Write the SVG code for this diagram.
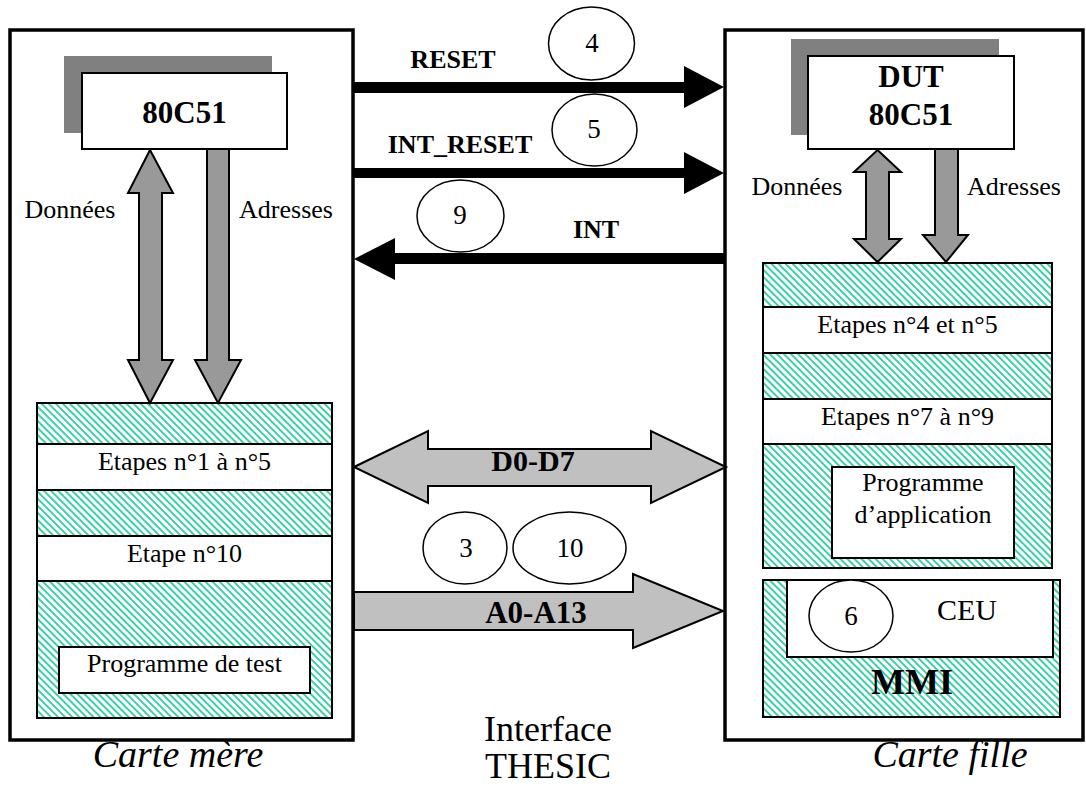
<svg xmlns="http://www.w3.org/2000/svg" width="1086" height="787" viewBox="0 0 1086 787">
<defs>
<pattern id="hatch" width="5" height="5" patternUnits="userSpaceOnUse" patternTransform="rotate(45)">
<rect width="5" height="5" fill="#ffffff"/>
<rect width="5" height="2" fill="#3cd0a6"/>
</pattern>
<style>
.outer{fill:#fff;stroke:#000;stroke-width:3.5}
.box{fill:#fff;stroke:#000;stroke-width:2}
.hatch{fill:url(#hatch);stroke:#000;stroke-width:2}
.shadow{fill:#808080}
.bus{fill:#999;stroke:#000;stroke-width:2}
.bus2{fill:#c0c0c0;stroke:#000;stroke-width:2}
.sig{fill:#000}
.ell{fill:#fff;stroke:#000;stroke-width:1.5}
text{font-family:"Liberation Serif","Times New Roman","DejaVu Serif",serif;fill:#000;text-anchor:middle}
.t{font-size:26px}
.b{font-size:26px;font-weight:bold}
.n{font-size:27px}
.big{font-size:36px}
.it{font-size:38px;font-style:italic}
</style>
</defs>
<rect width="1086" height="787" fill="#fff"/>

<g id="carte-mere">
<rect class="outer" x="10" y="30" width="343" height="710"/>
</g>
<g id="carte-fille">
<rect class="outer" x="725" y="30" width="358" height="710"/>
</g>

<g id="cpu-mere">
<rect class="shadow" x="64" y="56" width="208" height="77"/>
<rect class="box" x="82" y="73" width="205" height="76"/>
<text x="184.5" y="123" style="font-size:31px;font-weight:bold">80C51</text>
</g>

<g id="mem-mere">
<rect class="hatch" x="37" y="403" width="295" height="315"/>
<rect class="box" x="37" y="444" width="295" height="46"/>
<text class="t" x="184.5" y="470">Etapes n°1 à n°5</text>
<rect class="box" x="37" y="536" width="295" height="45"/>
<text class="t" x="184.5" y="562">Etape n°10</text>
<rect class="box" x="59" y="647" width="251" height="46"/>
<text class="t" x="184.5" y="672">Programme de test</text>
</g>

<g id="cpu-fille">
<rect class="shadow" x="791" y="39" width="208" height="96"/>
<rect class="box" x="808" y="56" width="206" height="93"/>
<text x="911" y="87" style="font-size:31px;font-weight:bold">DUT</text>
<text x="911" y="125" style="font-size:31px;font-weight:bold">80C51</text>
</g>

<g id="mem-fille">
<rect class="hatch" x="763" y="263" width="289" height="305"/>
<rect class="box" x="763" y="307" width="289" height="46"/>
<text class="t" x="907.5" y="333">Etapes n°4 et n°5</text>
<rect class="box" x="763" y="399" width="289" height="45"/>
<text class="t" x="907.5" y="425">Etapes n°7 à n°9</text>
<rect class="box" x="832" y="467" width="182" height="91"/>
<text class="t" x="923" y="491">Programme</text>
<text class="t" x="923" y="523">d’application</text>
</g>

<g id="mmi">
<rect class="hatch" x="763" y="580" width="297" height="137"/>
<rect class="box" x="787" y="580" width="266" height="77"/>
<text x="967" y="620" style="font-size:30px">CEU</text>
<text x="912" y="694" style="font-size:36px;font-weight:bold">MMI</text>
</g>

<g id="step6">
<ellipse class="ell" cx="851" cy="616" rx="42" ry="36"/>
<text class="n" x="851" y="625">6</text>
</g>

<g id="connectors">
<polygon class="bus" points="150,150 173,193 162,193 162,360 173,360 150,403 128,360 139,360 139,193 128,193"/>
<polygon class="bus" points="207,149 229,149 229,360 241,360 218,403 195,360 207,360"/>
<polygon class="bus" points="877.5,150 901,172 889,172 889,239 901,239 877.5,262 854,239 866,239 866,172 854,172"/>
<polygon class="bus" points="935,149 958,149 958,235 968,235 946,262 923,235 935,235"/>
<polygon class="sig" points="353,82 684,82 684,66 724,87 684,108 684,93 353,93"/>
<polygon class="sig" points="353,168 684,168 684,152 724,173 684,194 684,178 353,178"/>
<polygon class="sig" points="725,253 395,253 395,238 354,259 395,280 395,264 725,264"/>
<polygon class="bus2" points="354,467 428,431 428,449 651,449 651,431 726,467 651,503 651,486 428,486 428,503"/>
<polygon class="bus2" points="354,592 633,592 633,574 723,611 633,648 633,630 354,630"/>
</g>

<g id="labels">
<text class="t" x="70" y="218">Données</text>
<text class="t" x="286" y="218">Adresses</text>
<text class="t" x="797" y="195">Données</text>
<text class="t" x="1014" y="195">Adresses</text>
<text class="b" x="453" y="68">RESET</text>
<text class="b" x="460" y="153">INT_RESET</text>
<text class="b" x="596" y="238">INT</text>
<text x="533" y="471" style="font-size:30px;font-weight:bold">D0-D7</text>
<text x="536" y="623" style="font-size:31px;font-weight:bold">A0-A13</text>
<text class="big" x="548" y="741">Interface</text>
<text class="big" x="548" y="778">THESIC</text>
<text class="it" x="178" y="767">Carte mère</text>
<text class="it" x="950" y="767">Carte fille</text>
</g>

<g id="step4">
<ellipse class="ell" cx="591.5" cy="43.5" rx="43" ry="36.5"/>
<text class="n" x="592" y="52">4</text>
</g>
<g id="step5">
<ellipse class="ell" cx="594.5" cy="130" rx="42.5" ry="36"/>
<text class="n" x="594" y="138">5</text>
</g>
<g id="step9">
<ellipse class="ell" cx="460.5" cy="216" rx="43.5" ry="36"/>
<text class="n" x="460" y="224">9</text>
</g>
<g id="step3">
<ellipse class="ell" cx="465" cy="548" rx="42" ry="36"/>
<text class="n" x="466" y="557">3</text>
</g>
<g id="step10">
<ellipse class="ell" cx="569.5" cy="548" rx="56.5" ry="36"/>
<text class="n" x="570" y="557">10</text>
</g>
</svg>
